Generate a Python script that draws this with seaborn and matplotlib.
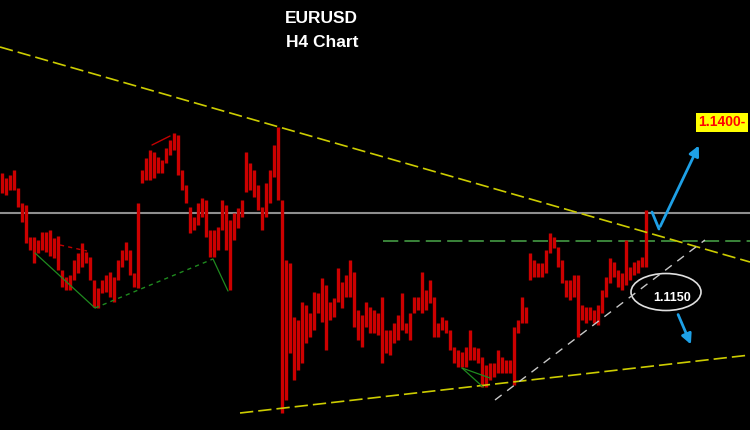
import numpy as np
import pandas as pd
import matplotlib
matplotlib.use('Agg')
import matplotlib.pyplot as plt
from matplotlib.patches import Ellipse
import seaborn as sns

# ============================
# Data (price x 10000)
# ============================

highs = [11254, 11244, 11250, 11260, 11224, 11194, 11190, 11126, 11126, 11120,
         11136, 11136, 11140, 11124, 11128, 11060, 11046, 11050, 11080, 11094,
         11114, 11096, 11086, 11040, 11024, 11040, 11050, 11056, 11046, 11080,
         11100, 11116, 11100, 11054, 11194, 11260, 11284, 11300, 11296, 11286,
         11280, 11304, 11320, 11334, 11330, 11260, 11230, 11186, 11166, 11194,
         11204, 11200, 11140, 11140, 11146, 11200, 11190, 11160, 11174, 11184,
         11200, 11296, 11274, 11260, 11230, 11186, 11234, 11260, 11310, 11346,
         11200, 11080, 11074, 10966, 10960, 10996, 10990, 10974, 11016, 11014,
         11044, 11030, 10996, 11004, 11064, 11036, 11050, 11080, 11056, 10980,
         10970, 10996, 10986, 10980, 10974, 11006, 10940, 10940, 10954, 10970,
         11014, 10954, 10974, 11006, 11006, 11056, 11020, 11040, 11006, 10954,
         10966, 10960, 10940, 10906, 10900, 10896, 10906, 10940, 10906, 10904,
         10886, 10870, 10874, 10874, 10900, 10886, 10880, 10880, 10946, 10960,
         11006, 10986, 11094, 11080, 11074, 11074, 11100, 11134, 11126, 11106,
         11080, 11040, 11040, 11050, 11050, 10990, 10986, 10986, 10980, 10990,
         11020, 11046, 11084, 11076, 11060, 11054, 11120, 11066, 11076, 11080,
         11086, 11180]
lows = [11214, 11210, 11220, 11220, 11186, 11156, 11114, 11100, 11074, 11094,
        11100, 11096, 11088, 11084, 11060, 11026, 11020, 11020, 11040, 11054,
        11066, 11074, 11040, 10986, 10984, 11014, 11016, 11006, 10996, 11040,
        11066, 11080, 11050, 11026, 11024, 11234, 11240, 11240, 11244, 11254,
        11254, 11274, 11290, 11300, 11250, 11220, 11194, 11134, 11140, 11150,
        11166, 11126, 11086, 11086, 11100, 11140, 11100, 11020, 11120, 11144,
        11166, 11216, 11220, 11206, 11180, 11140, 11166, 11194, 11246, 11200,
        10774, 10800, 10894, 10840, 10860, 10874, 10914, 10926, 10940, 10974,
        10956, 10900, 10960, 10966, 10996, 10984, 11006, 11006, 10946, 10920,
        10906, 10946, 10934, 10934, 10930, 10874, 10894, 10890, 10914, 10920,
        10940, 10934, 10920, 10974, 10980, 10974, 10980, 10994, 10926, 10926,
        10940, 10934, 10900, 10874, 10866, 10866, 10866, 10880, 10880, 10874,
        10826, 10826, 10840, 10846, 10854, 10854, 10854, 10854, 10830, 10934,
        10954, 10954, 11040, 11046, 11046, 11046, 11054, 11094, 11104, 11066,
        11034, 11006, 11000, 11006, 10926, 10960, 10954, 10960, 10954, 10950,
        10974, 11006, 11034, 11046, 11026, 11020, 11030, 11040, 11050, 11054,
        11066, 11066]

# drawn trend lines as (bar, price) end points
upper_trend_x, upper_trend_y = [-0.5, 187], [1.1506, 1.1076]
lower_trend_x, lower_trend_y = [59.5, 187], [1.0774, 1.0890]
rising_x, rising_y = [123.25, 175.75], [1.0800, 1.1120]
resistance = 1.1174
zone_level, zone_start = 1.1118, 95.25

# zigzag indicator legs
zigzag_x = [8.25, 23.25, 52.75, 56.5]
zigzag_y = [1.1094, 1.0984, 1.1082, 1.1018]
red_leg1_x, red_leg1_y = [14.5, 21.25], [1.1110, 1.1098]
red_leg2_x, red_leg2_y = [37.5, 42.0], [1.1310, 1.1328]
green_low_x = [115, 122, 115, 120.25]
green_low_y = [1.0864, 1.0844, 1.0864, 1.0826]

# projected moves
up_path_x, up_path_y = [162.5, 164.25, 174.5], [1.1176, 1.1142, 1.1314]
down_path_x, down_path_y = [168.75, 172.5], [1.0976, 1.0906]
pivot_label, pivot_x, pivot_y = '1.1150', 166, 1.1016
target_label, target_x, target_y = '1.1400-', 174, 1.1356

highs = np.array(highs) / 10000
lows = np.array(lows) / 10000
bars = pd.DataFrame({'bar': np.arange(len(highs)), 'high': highs, 'low': lows})

sns.set_style('dark', {'axes.facecolor': 'black', 'figure.facecolor': 'black'})
plt.rcParams['font.family'] = ['Liberation Sans', 'DejaVu Sans']

fig = plt.figure(figsize=(7.5, 4.3), dpi=100)
ax = fig.add_axes([0, 0, 1, 1])
ax.set_facecolor('black')


def trend(xs, ys, color, lw, ls):
    d = pd.DataFrame({'x': xs, 'y': ys})
    sns.lineplot(data=d, x='x', y='y', ax=ax, color=color, lw=lw,
                 linestyle=ls, estimator=None, sort=False)


# horizontal levels
ax.axhline(resistance, color='#8e8e8e', lw=1.5)
ax.plot([zone_start, 187], [zone_level, zone_level], color='#4aa84a', lw=1.1,
        linestyle=(0, (10, 4)))

# price bars
ax.vlines(bars['bar'], bars['low'], bars['high'], color='#cc0000', lw=2.4)

# trend lines
trend(upper_trend_x, upper_trend_y, '#cccc00', 1.2, (0, (8, 3)))
trend(lower_trend_x, lower_trend_y, '#cccc00', 1.2, (0, (8, 3)))
trend(rising_x, rising_y, '#c8c8c8', 1.0, (0, (6, 5)))

# zigzag
trend(zigzag_x[:2], zigzag_y[:2], '#1f8a1f', 0.9, '-')
trend(zigzag_x[1:3], zigzag_y[1:3], '#1f8a1f', 1.0, (0, (3, 3)))
trend(zigzag_x[2:], zigzag_y[2:], '#1f8a1f', 0.9, '-')
trend(red_leg1_x, red_leg1_y, '#c00000', 1.0, (0, (3, 3)))
trend(red_leg2_x, red_leg2_y, '#c00000', 1.0, '-')
trend(green_low_x[:2], green_low_y[:2], '#1f8a1f', 0.9, '-')
trend(green_low_x[2:], green_low_y[2:], '#1f8a1f', 0.9, '-')

# projected moves
blue = '#1ea0e6'
ax.plot(up_path_x[:2], up_path_y[:2], color=blue, lw=2, solid_capstyle='round')
ax.annotate('', xy=(up_path_x[2], up_path_y[2]), xytext=(up_path_x[1], up_path_y[1]),
            arrowprops=dict(arrowstyle='-|>,head_length=0.6,head_width=0.3',
                            color=blue, lw=2))
ax.annotate('', xy=(down_path_x[1], down_path_y[1]), xytext=(down_path_x[0], down_path_y[0]),
            arrowprops=dict(arrowstyle='-|>,head_length=0.6,head_width=0.3',
                            color=blue, lw=2))

# pivot ellipse + labels
ax.add_patch(Ellipse((pivot_x, pivot_y), 17.5, 0.0074, facecolor='none',
                     edgecolor='#e0e0e0', lw=1.2))
ax.text(pivot_x + 1.5, pivot_y - 0.0012, pivot_label, color='white',
        fontsize=9, fontweight='bold', ha='center', va='center')
ax.text(target_x, target_y, target_label, color='#ff0000', fontsize=10,
        fontweight='bold', ha='left', va='center',
        bbox=dict(facecolor='#ffff00', edgecolor='none', pad=1.8))

fig.text(0.429, 0.956, 'EURUSD', color='white', fontsize=12.5,
         fontweight='bold', ha='center', va='center')
fig.text(0.429, 0.902, 'H4 Chart', color='white', fontsize=12.5,
         fontweight='bold', ha='center', va='center')

ax.set_xlim(-0.5, 187)
ax.set_ylim(1.074, 1.16)
ax.axis('off')

fig.savefig('out.png', dpi=100, facecolor='black')
